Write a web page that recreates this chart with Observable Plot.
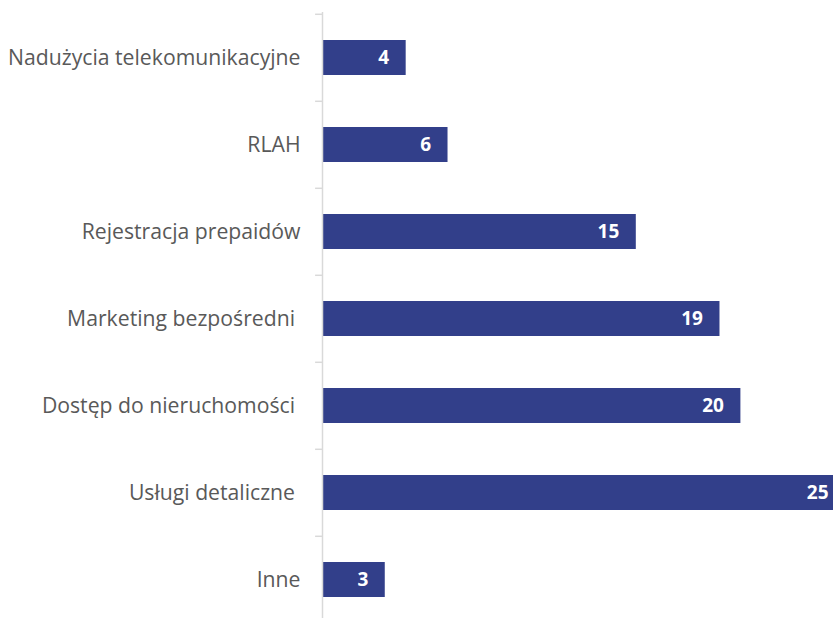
<!DOCTYPE html>
<html>
<head>
<meta charset="utf-8">
<script src="https://cdn.jsdelivr.net/npm/d3@7"></script>
<script src="https://cdn.jsdelivr.net/npm/@observablehq/plot@0.6"></script>
<style>
  html, body { margin: 0; padding: 0; background: #fff; overflow: hidden; }
  svg text.cat { white-space: pre; }
</style>
</head>
<body>
<div id="chart"></div>
<script>
const categories = [
  "Nadużycia telekomunikacyjne",
  "RLAH",
  "Rejestracja prepaidów",
  "Marketing bezpośredni ",
  "Dostęp do nieruchomości ",
  "Usługi detaliczne ",
  "Inne"
];
const values = [4, 6, 15, 19, 20, 25, 3];

const data = categories.map((c, i) => ({category: c, value: values[i]}));

const chart = Plot.plot({
  width: 833,
  height: 618,
  marginTop: 12,
  marginBottom: 0,
  marginLeft: 322,
  marginRight: 0,
  style: {background: "#fff", overflow: "hidden"},
  x: {domain: [0, 25], range: [322, 845], axis: null},
  y: {domain: categories, range: [12, 624], paddingInner: 0.6, paddingOuter: 0.3, align: 0.5, axis: null},
  marks: [
    Plot.barX(data, {x: "value", y: "category", fill: "#323f8a"}),
    Plot.ruleX([0], {stroke: "#d9d9d9", strokeWidth: 1.5}),
    Plot.ruleY(categories, {y: d => d, x1: -0.33, x2: 0, dy: -43.7, stroke: "#d9d9d9", strokeWidth: 1.5}),
    Plot.text(categories, {
      y: d => d, x: 0, dx: -22, text: d => d, textAnchor: "end",
      fill: "#595959", fontSize: 21.2, fontFamily: "Open Sans", className: "cat"
    }),
    Plot.text(data, {
      x: "value", y: "category", text: d => String(d.value), dx: -17, textAnchor: "end",
      fill: "#fff", fontSize: 19, fontWeight: "bold", fontFamily: "Open Sans"
    })
  ]
});
document.getElementById("chart").appendChild(chart);
</script>
</body>
</html>
